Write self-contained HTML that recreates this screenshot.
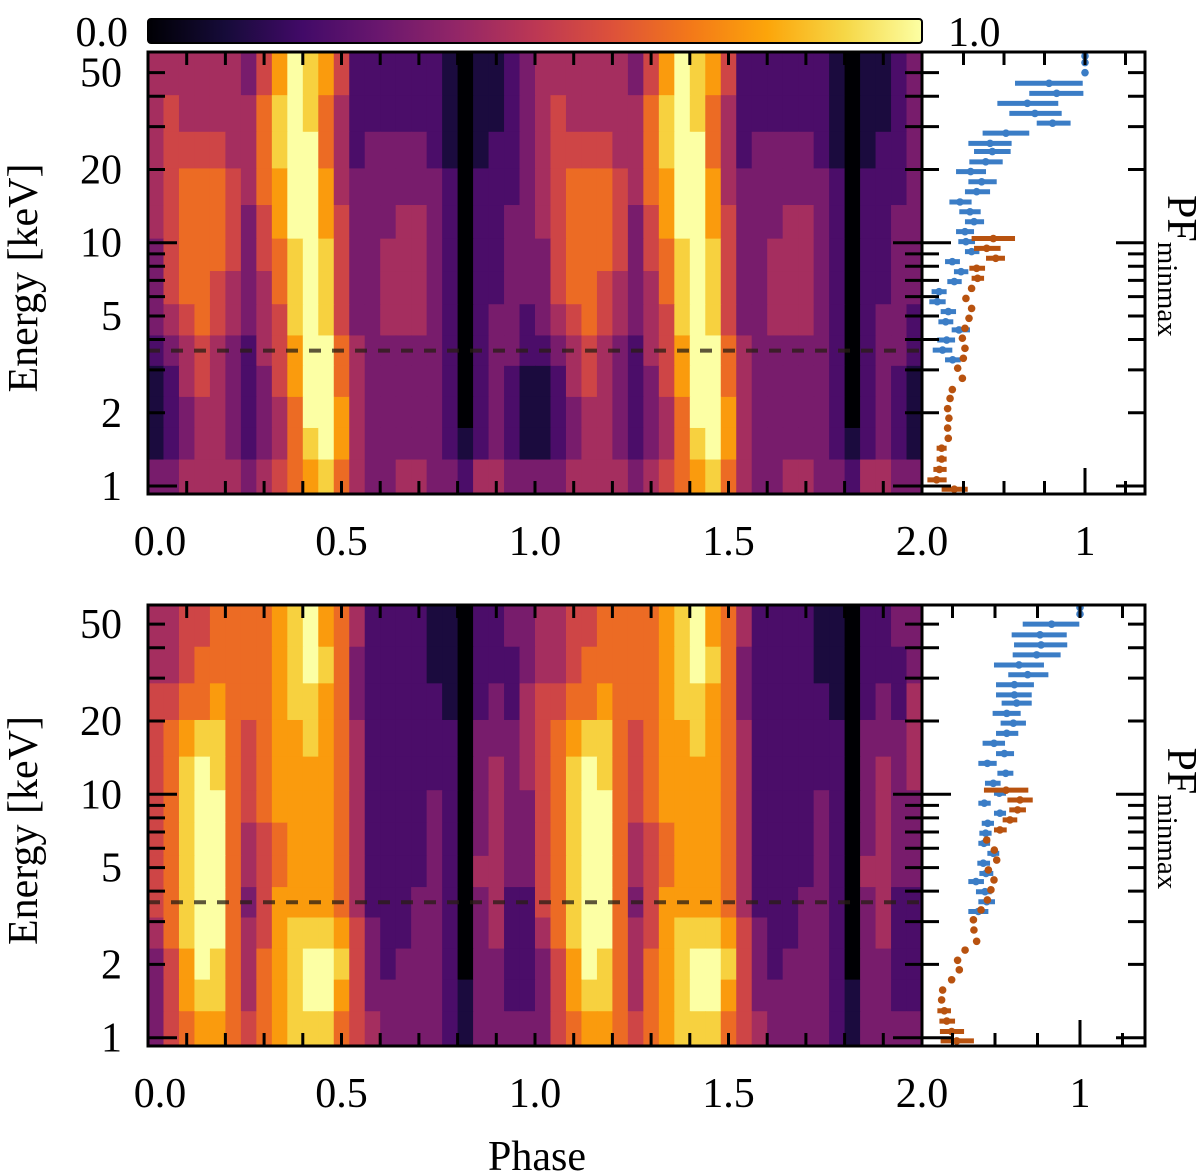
<!DOCTYPE html>
<html><head><meta charset="utf-8"><style>
html,body{margin:0;padding:0;background:#fff;}
svg{display:block;font-family:"Liberation Serif",serif;}
</style></head><body>
<svg id="fig" width="1200" height="1173" viewBox="0 0 1200 1173" xmlns="http://www.w3.org/2000/svg">
<defs>
<linearGradient id="inferno" x1="0" x2="1" y1="0" y2="0">
<stop offset="0" stop-color="#000004"/><stop offset="0.1" stop-color="#160b39"/><stop offset="0.2" stop-color="#420a68"/><stop offset="0.3" stop-color="#6a176e"/><stop offset="0.4" stop-color="#932667"/><stop offset="0.5" stop-color="#bc3754"/><stop offset="0.6" stop-color="#dd513a"/><stop offset="0.7" stop-color="#f37819"/><stop offset="0.8" stop-color="#fca50a"/><stop offset="0.9" stop-color="#f6d746"/><stop offset="1" stop-color="#fcffa4"/>
</linearGradient>
</defs>
<g>
<rect x="148" y="19" width="774" height="24" rx="3" fill="url(#inferno)" stroke="#000" stroke-width="2"/>
<text x="128" y="46" font-size="42" text-anchor="end">0.0</text>
<text x="948" y="46" font-size="42">1.0</text>
</g>
</svg>
<script>
// ---- heatmap data (one rotation, repeated for phase 1-2) ----
const phaseBins = [0.02,0.06,0.10,0.14,0.18,0.22,0.26,0.30,0.34,0.38,0.42,0.46,0.50,0.54,0.58,0.62,0.66,0.70,0.74,0.78,0.82,0.86,0.90,0.94,0.98];
const energyRows = [48,34,24,17,12,9,6.5,4.8,3.6,2.7,2.0,1.5,1.1];
const topIntensity = [
[4,4,4,4,4,4,3,5,7,9,8,7,5,2,2,2,2,2,2,1,0,1,1,2,3],
[4,5,4,4,4,4,4,6,8,9,8,6,4,2,2,2,2,2,2,1,0,1,1,2,3],
[4,5,5,5,5,4,4,6,8,9,9,6,4,2,3,3,3,3,2,1,0,1,2,2,3],
[4,5,6,6,6,5,4,6,7,9,9,7,4,3,3,3,3,3,3,2,0,2,2,2,3],
[4,5,6,6,6,5,3,5,7,9,9,7,5,3,3,3,4,4,3,2,0,2,2,3,3],
[3,5,6,6,6,5,3,5,6,8,9,8,5,3,3,4,4,4,3,2,0,2,2,3,3],
[3,5,6,6,5,4,3,4,6,8,9,8,5,3,3,4,4,4,3,2,0,2,2,3,3],
[3,4,5,6,5,4,3,4,5,8,9,8,5,3,3,4,4,4,3,2,0,2,3,3,2],
[2,3,4,5,4,3,2,4,5,7,9,9,6,4,3,3,3,3,3,2,0,2,3,3,2],
[1,2,4,5,4,3,2,3,5,7,9,9,6,4,3,3,3,3,3,2,0,2,3,2,1],
[1,2,3,4,4,3,2,3,4,6,9,9,7,4,3,3,3,3,3,2,0,2,3,2,1],
[1,2,3,4,4,3,2,3,4,6,8,9,7,4,3,3,3,3,3,2,1,2,3,2,1],
[3,3,4,4,4,4,3,4,5,6,7,8,6,4,3,3,4,4,3,3,2,4,4,3,3]];
const bottomIntensity = [
[4,4,5,5,6,6,6,6,7,8,9,7,6,4,2,2,2,2,1,1,0,2,2,3,3],
[4,4,5,6,6,6,6,6,7,8,9,8,6,3,2,2,2,2,1,1,0,2,2,2,3],
[5,5,6,6,7,6,6,6,7,8,8,7,6,3,2,2,2,2,2,1,0,2,3,2,4],
[5,6,7,8,8,6,5,6,7,7,8,7,6,4,2,2,2,2,2,2,0,3,3,3,4],
[5,6,8,9,8,6,5,6,7,7,7,7,6,4,2,2,2,2,2,2,0,3,4,3,4],
[5,6,8,9,9,6,5,6,7,7,7,7,6,4,2,2,2,2,3,2,0,3,4,3,3],
[5,6,8,9,9,6,4,5,6,7,7,7,6,4,2,2,2,2,3,2,0,3,4,3,3],
[5,6,8,9,9,6,4,5,6,7,7,7,6,4,2,2,2,2,3,2,0,4,4,3,3],
[5,6,8,9,9,6,3,5,7,7,7,7,6,4,2,2,2,3,3,2,0,3,4,2,2],
[4,6,8,9,9,6,4,5,7,8,8,8,7,5,3,2,2,3,3,2,0,3,4,2,2],
[3,5,7,9,8,6,4,6,7,8,9,9,8,5,3,2,3,3,3,2,0,3,3,2,2],
[3,5,7,8,8,6,4,6,7,8,9,9,7,5,3,3,3,3,3,2,1,3,3,2,2],
[3,5,6,7,7,6,5,6,7,8,8,8,6,5,4,3,3,3,3,2,1,3,3,3,3]];
const intensityMax = 9;
// ---- pulsed fraction data ----
const blueEnergy = [58.5,55.0,50.0,45.2,41.1,37.4,34.0,31.0,28.2,25.6,23.7,21.5,19.6,17.8,16.2,14.7,13.4,12.2,11.1,10.1,9.19,8.36,7.60,6.92,6.29,5.72,5.21,4.73,4.38,3.98,3.62,3.30];
const orangeEnergy = [10.4,9.48,8.63,7.85,7.14,6.49,5.90,5.37,4.89,4.45,4.05,3.68,3.35,3.05,2.77,2.49,2.29,2.08,1.90,1.73,1.57,1.43,1.29,1.17,1.06,0.97];
const topBluePF = [1,1,1,0.778,0.825,0.644,0.691,0.800,0.512,0.414,0.428,0.387,0.294,0.362,0.331,0.228,0.290,0.315,0.259,0.265,0.300,0.181,0.235,0.193,0.099,0.088,0.156,0.140,0.222,0.146,0.121,0.183];
const topBlueLo = [1,1,1,0.568,0.656,0.459,0.533,0.702,0.368,0.280,0.315,0.286,0.204,0.280,0.259,0.163,0.224,0.259,0.204,0.218,0.259,0.136,0.191,0.150,0.053,0.039,0.109,0.095,0.177,0.088,0.060,0.136];
const topBlueHi = [1,1,1,0.986,0.990,0.835,0.856,0.911,0.656,0.547,0.541,0.492,0.389,0.455,0.414,0.300,0.356,0.377,0.315,0.321,0.348,0.228,0.280,0.239,0.146,0.140,0.204,0.187,0.290,0.198,0.181,0.233];
const topOrangePF = [0.434,0.393,0.449,0.331,0.337,0.300,0.265,0.300,0.284,0.259,0.243,0.259,0.249,0.214,0.243,0.181,0.167,0.152,0.160,0.152,0.156,0.115,0.115,0.101,0.084,0.193];
const topOrangeLo = [0.300,0.315,0.389,0.286,0.300,0.300,0.265,0.300,0.284,0.259,0.243,0.259,0.249,0.214,0.243,0.181,0.167,0.152,0.160,0.152,0.156,0.084,0.084,0.064,0.027,0.115];
const topOrangeHi = [0.568,0.479,0.506,0.383,0.377,0.300,0.265,0.300,0.284,0.259,0.243,0.259,0.249,0.214,0.243,0.181,0.167,0.152,0.160,0.152,0.156,0.146,0.146,0.146,0.146,0.276];
const botBluePF = [1,1,0.833,0.765,0.771,0.745,0.641,0.692,0.614,0.614,0.627,0.569,0.608,0.569,0.494,0.555,0.455,0.563,0.490,0.525,0.437,0.529,0.457,0.445,0.435,0.490,0.431,0.447,0.388,0.441,0.451,0.402];
const botBlueLo = [1,1,0.663,0.598,0.612,0.604,0.494,0.578,0.506,0.506,0.539,0.486,0.533,0.506,0.427,0.506,0.402,0.514,0.441,0.494,0.402,0.494,0.422,0.408,0.402,0.455,0.396,0.408,0.343,0.388,0.402,0.343];
const botBlueHi = [1,1,0.996,0.922,0.925,0.886,0.788,0.814,0.729,0.716,0.716,0.651,0.682,0.637,0.559,0.612,0.510,0.608,0.533,0.565,0.475,0.565,0.494,0.480,0.471,0.525,0.471,0.490,0.435,0.480,0.500,0.461];
const botOrangePF = [0.565,0.647,0.633,0.588,0.529,0.451,0.496,0.510,0.461,0.494,0.476,0.455,0.418,0.373,0.376,0.392,0.324,0.280,0.290,0.245,0.192,0.186,0.202,0.216,0.245,0.275];
const botOrangeLo = [0.435,0.573,0.584,0.545,0.494,0.435,0.496,0.510,0.461,0.494,0.476,0.455,0.418,0.373,0.376,0.392,0.324,0.280,0.290,0.245,0.192,0.186,0.161,0.173,0.176,0.180];
const botOrangeHi = [0.696,0.722,0.682,0.631,0.569,0.471,0.496,0.510,0.461,0.494,0.476,0.455,0.418,0.373,0.376,0.392,0.324,0.280,0.290,0.245,0.192,0.186,0.241,0.265,0.318,0.376];
const xTickLabels = ["0.0","0.5","1.0","1.5","2.0"];
const yTickLabels = [1,2,5,10,20,50];
const yMinorTicks = [3,4,6,7,8,9,30,40];

const NS = "http://www.w3.org/2000/svg";
const svg = document.getElementById('fig');
const stops = [[0,0,0,4],[0.1,22,11,57],[0.2,66,10,104],[0.3,106,23,110],[0.4,147,38,103],[0.5,188,55,84],[0.6,221,81,58],[0.7,243,120,25],[0.8,252,165,10],[0.9,246,215,70],[1,252,255,164]];
function cmap(v){v=Math.max(0,Math.min(1,v));for(let i=1;i<stops.length;i++){if(v<=stops[i][0]){const a=stops[i-1],b=stops[i];const t=(v-a[0])/(b[0]-a[0]);return `rgb(${Math.round(a[1]+t*(b[1]-a[1]))},${Math.round(a[2]+t*(b[2]-a[2]))},${Math.round(a[3]+t*(b[3]-a[3]))})`;}}return 'rgb(252,255,164)';}
function mk(tag,attrs,parent){const e=document.createElementNS(NS,tag);for(const k in attrs)e.setAttribute(k,attrs[k]);(parent||svg).appendChild(e);return e;}

function panel(cfg){
  const {top,bottom,y1,decade,pf0,pfUnit,intensity,name,bPF,bLo,bHi,oPF,oLo,oHi,xLabY} = cfg;
  const L=148,R=922,R2=1145;
  const yE = e => y1 - decade*Math.log10(e);
  const xP = p => L + (R-L)*p/2;
  const xF = f => pf0 + pfUnit*f;
  const g = mk('g',{});
  
  
  const hm = mk('g',{},g);
  
  
  const eMax = Math.pow(10,(y1-top)/decade), eMin = Math.pow(10,(y1-bottom)/decade);
  const dp = phaseBins[1]-phaseBins[0];
  for(let r=0;r<energyRows.length;r++){
    const eHi = r===0?eMax:Math.sqrt(energyRows[r]*energyRows[r-1]);
    const eLo = r===energyRows.length-1?eMin:Math.sqrt(energyRows[r]*energyRows[r+1]);
    const ya=yE(eHi), yb=yE(eLo);
    for(let cyc=0;cyc<2;cyc++){
      for(let c=0;c<phaseBins.length;c++){
        const p0=cyc+phaseBins[c]-dp/2;
        const xa=xP(p0), xb=xP(p0+dp);
        const cell = mk('rect',{x:xa.toFixed(2),y:ya.toFixed(2),width:(xb-xa+0.6).toFixed(2),height:(yb-ya+0.6).toFixed(2),fill:cmap(intensity[r][c]/intensityMax)},hm);
        
        
      }
    }
  }
  const dl = mk('line',{x1:L,x2:R,y1:yE(3.6),y2:yE(3.6),stroke:'rgba(40,30,20,0.75)','stroke-width':4,'stroke-dasharray':'12 11'},g);
  
  
  const pg = mk('g',{},g);
  
  
  function series(en,v,lo,hi,col,sname){
    const sg=mk('g',{},pg);
    
    
    for(let i=0;i<en.length;i++){
      const y=yE(en[i]);
      if(hi[i]>lo[i]){ const b=mk('line',{x1:xF(lo[i]),x2:xF(hi[i]),y1:y,y2:y,stroke:col,'stroke-width':5},sg);
          }
      const d=mk('circle',{cx:xF(v[i]),cy:y,r:3.8,fill:col},sg);
      
      
    }
  }
  series(blueEnergy,bPF,bLo,bHi,'#3b7dc6',name+'-blue-series');
  series(orangeEnergy,oPF,oLo,oHi,'#b8520f',name+'-orange-series');
  const fr=mk('rect',{x:L,y:top,width:R-L,height:bottom-top,fill:'none',stroke:'#000','stroke-width':3},g);
   
  const fr2=mk('rect',{x:R,y:top,width:R2-R,height:bottom-top,fill:'none',stroke:'#000','stroke-width':3},g);
   
  const tk = mk('g',{stroke:'#000','stroke-width':3},g);
   
  for(let i=1;i<20;i++){const x=xP(i/10);mk('line',{x1:x,x2:x,y1:bottom,y2:bottom-13},tk);mk('line',{x1:x,x2:x,y1:top,y2:top+13},tk);}
  for(let f=0.25;f<=1.31;f+=0.25){const x=xF(f);if(x<=R+3||x>=R2-3)continue;const len=Math.abs(f-1)<0.01?26:13;mk('line',{x1:x,x2:x,y1:bottom,y2:bottom-len},tk);mk('line',{x1:x,x2:x,y1:top,y2:top+13},tk);}
  const allY = yTickLabels.concat(yMinorTicks);
  for(const e of allY){const y=yE(e);const len=(e===1||e===10)?29:17;
    mk('line',{x1:L,x2:L+len,y1:y,y2:y},tk);mk('line',{x1:R-len,x2:R+len,y1:y,y2:y},tk);mk('line',{x1:R2-len,x2:R2,y1:y,y2:y},tk);}
  for(const e of yTickLabels){const t=mk('text',{x:122,y:yE(e)+14,'font-size':42,'text-anchor':'end'},g);t.textContent=e;
     }
  xTickLabels.forEach((s,i)=>{const x=i===0?160:xP(i*0.5);const t=mk('text',{x:x,y:xLabY,'font-size':42,'text-anchor':'middle'},g);t.textContent=s;
     });
  const one=mk('text',{x:xF(1),y:xLabY,'font-size':42,'text-anchor':'middle'},g);one.textContent='1';
   
  const yl=mk('text',{x:0,y:0,'font-size':42,'text-anchor':'middle',transform:`translate(37,${(top+bottom)/2+5}) rotate(-90)`},g);yl.textContent='Energy [keV]';
   
  const pl=mk('text',{x:0,y:0,'font-size':42,transform:`translate(1168,${(top+bottom)/2-78}) rotate(90)`},g);
   
  pl.appendChild(document.createTextNode('PF'));
  const sub=mk('tspan',{'font-size':29,dy:10},pl);sub.textContent='minmax';
}
panel({top:52,bottom:494,y1:486,decade:243.3,pf0:923,pfUnit:162,intensity:topIntensity,name:'top',bPF:topBluePF,bLo:topBlueLo,bHi:topBlueHi,oPF:topOrangePF,oLo:topOrangeLo,oHi:topOrangeHi,xLabY:555});
panel({top:605,bottom:1046,y1:1037.7,decade:243.4,pf0:910,pfUnit:170,intensity:bottomIntensity,name:'bottom',bPF:botBluePF,bLo:botBlueLo,bHi:botBlueHi,oPF:botOrangePF,oLo:botOrangeLo,oHi:botOrangeHi,xLabY:1107});
const xt=mk('text',{x:537,y:1170,'font-size':42,'text-anchor':'middle'});xt.textContent='Phase';


</script>
</body></html>
